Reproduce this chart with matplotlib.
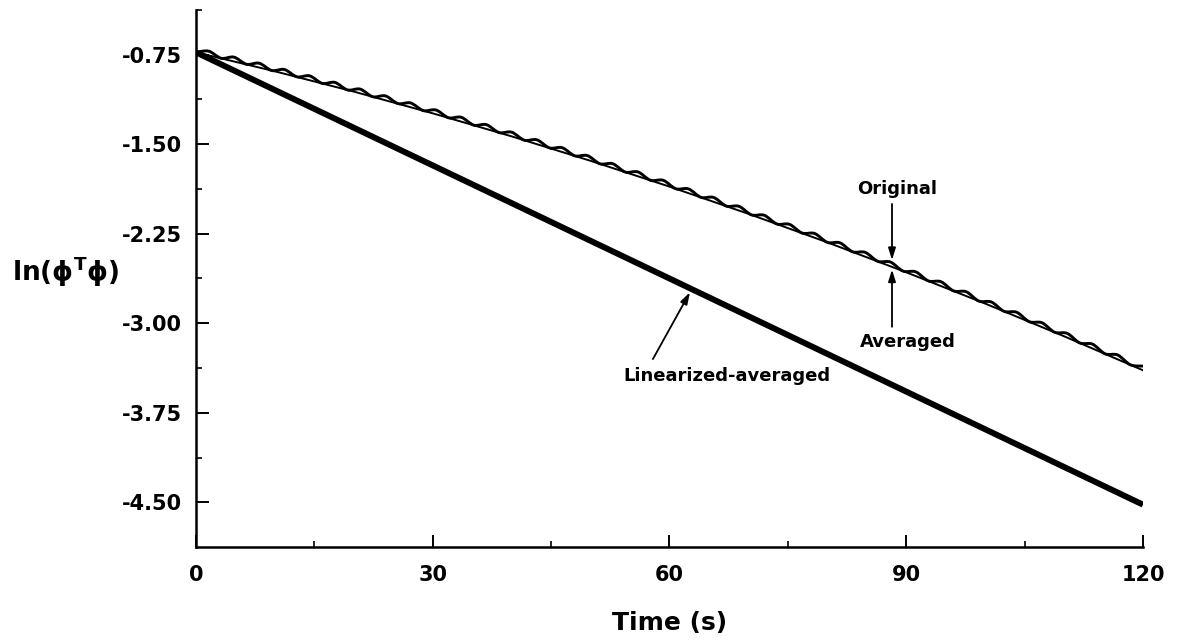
import matplotlib.pyplot as plt
from matplotlib.path import Path
from matplotlib.patches import PathPatch
from matplotlib.ticker import FixedLocator

plt.rcParams['font.family'] = ['DejaVu Sans']
plt.rcParams['mathtext.fontset'] = 'dejavusans'

# averaged response, ln(phi^T phi) vs time
t_avg = [0, 10, 20, 30, 40, 50, 60, 70, 80, 90, 100, 110, 120]
v_avg = [-0.730, -0.889, -1.059, -1.241, -1.434, -1.639, -1.855,
         -2.083, -2.322, -2.573, -2.835, -3.109, -3.394]

# linearized-averaged response (straight line)
t_lin = [0, 120]
v_lin = [-0.73, -4.52]

# original response, alternating troughs / crests of the ripple
t_orig = [0.0, 1.6, 3.2, 4.8, 6.4, 8.0, 9.6, 11.2, 12.8, 14.4,
          16.0, 17.6, 19.2, 20.8, 22.4, 24.0, 25.6, 27.2, 28.8, 30.4,
          32.0, 33.6, 35.2, 36.8, 38.4, 40.0, 41.6, 43.2, 44.8, 46.4,
          48.0, 49.6, 51.2, 52.8, 54.4, 56.0, 57.6, 59.2, 60.8, 62.4,
          64.0, 65.6, 67.2, 68.8, 70.4, 72.0, 73.6, 75.2, 76.8, 78.4,
          80.0, 81.6, 83.2, 84.8, 86.4, 88.0, 89.6, 91.2, 92.8, 94.4,
          96.0, 97.6, 99.2, 100.8, 102.4, 104.0, 105.6, 107.2, 108.8, 110.4,
          112.0, 113.6, 115.2, 116.8, 118.4, 120.0]
v_orig = [-0.730, -0.720, -0.780, -0.770, -0.830, -0.821, -0.882, -0.874, -0.935, -0.927,
          -0.990, -0.982, -1.045, -1.038, -1.102, -1.095, -1.159, -1.154, -1.218, -1.213,
          -1.278, -1.274, -1.340, -1.336, -1.402, -1.399, -1.466, -1.463, -1.531, -1.529,
          -1.597, -1.595, -1.664, -1.663, -1.733, -1.732, -1.802, -1.802, -1.873, -1.874,
          -1.945, -1.946, -2.018, -2.020, -2.092, -2.095, -2.168, -2.171, -2.244, -2.248,
          -2.322, -2.326, -2.401, -2.406, -2.481, -2.487, -2.563, -2.569, -2.645, -2.652,
          -2.729, -2.736, -2.814, -2.822, -2.900, -2.908, -2.987, -2.996, -3.075, -3.085,
          -3.165, -3.175, -3.256, -3.266, -3.348, -3.359]

x_ticks = [0, 30, 60, 90, 120]
x_labels = ['0', '30', '60', '90', '120']
x_minor = [15, 45, 75, 105]
y_ticks = [-0.75, -1.50, -2.25, -3.00, -3.75, -4.50]
y_labels = ['-0.75', '-1.50', '-2.25', '-3.00', '-3.75', '-4.50']
y_minor = [-0.375, -1.125, -1.875, -2.625, -3.375, -4.125]


def smooth_path(xs, ys):
    # Catmull-Rom through the points, written as cubic Bezier segments
    pts = list(zip(xs, ys))
    n = len(pts)
    verts = [pts[0]]
    codes = [Path.MOVETO]
    for i in range(n - 1):
        p0 = pts[max(i - 1, 0)]
        p1 = pts[i]
        p2 = pts[i + 1]
        p3 = pts[min(i + 2, n - 1)]
        c1 = (p1[0] + (p2[0] - p0[0]) / 6, p1[1] + (p2[1] - p0[1]) / 6)
        c2 = (p2[0] - (p3[0] - p1[0]) / 6, p2[1] - (p3[1] - p1[1]) / 6)
        verts += [c1, c2, p2]
        codes += [Path.CURVE4] * 3
    return Path(verts, codes)


fig = plt.figure(figsize=(11.8, 6.44), dpi=100)
ax = fig.add_axes([0.1661, 0.1506, 0.8025, 0.8339])

ax.plot(t_lin, v_lin, color='black', lw=4.3, solid_capstyle='butt')
ax.plot(t_avg, v_avg, color='black', lw=1.4)
ax.add_patch(PathPatch(smooth_path(t_orig, v_orig), facecolor='none',
                       edgecolor='black', lw=2.1, joinstyle='round'))

ax.set_xlim(0, 120)
ax.set_ylim(-4.875, -0.375)
ax.set_xticks(x_ticks)
ax.set_xticklabels(x_labels)
ax.xaxis.set_minor_locator(FixedLocator(x_minor))
ax.set_yticks(y_ticks)
ax.set_yticklabels(y_labels)
ax.yaxis.set_minor_locator(FixedLocator(y_minor))

for side in ['top', 'right']:
    ax.spines[side].set_visible(False)
for side in ['left', 'bottom']:
    ax.spines[side].set_linewidth(1.8)

ax.tick_params(which='major', direction='in', length=9, width=1.4,
               labelsize=15, pad=10)
ax.tick_params(which='minor', direction='in', length=4.5, width=1.2)
ax.tick_params(axis='x', which='major', pad=13)
for lab in ax.get_xticklabels() + ax.get_yticklabels():
    lab.set_fontweight('bold')

ax.set_xlabel('Time (s)', fontsize=18, fontweight='bold', va='center')
ax.xaxis.set_label_coords(0.5, -0.1415)
ax.text(-0.138, 0.512, r'$\mathbf{ln(\phi^{T}\phi)}$', transform=ax.transAxes,
        fontsize=19, ha='center', va='center')

arrow = dict(arrowstyle='-|>,head_length=0.7,head_width=0.22', color='black',
             lw=1.3, shrinkA=0, shrinkB=0)
ax.annotate('', xy=(88.2, -2.47), xytext=(88.2, -2.0), arrowprops=arrow)
ax.text(88.8, -1.873, 'Original', fontsize=13, fontweight='bold',
        ha='center', va='center')
ax.annotate('', xy=(88.2, -2.55), xytext=(88.2, -3.03), arrowprops=arrow)
ax.text(90.2, -3.156, 'Averaged', fontsize=13, fontweight='bold',
        ha='center', va='center')
ax.annotate('', xy=(62.6, -2.74), xytext=(57.9, -3.30), arrowprops=arrow)
ax.text(67.3, -3.44, 'Linearized-averaged', fontsize=13, fontweight='bold',
        ha='center', va='center')

fig.savefig('out.png', dpi=100, facecolor='white')
